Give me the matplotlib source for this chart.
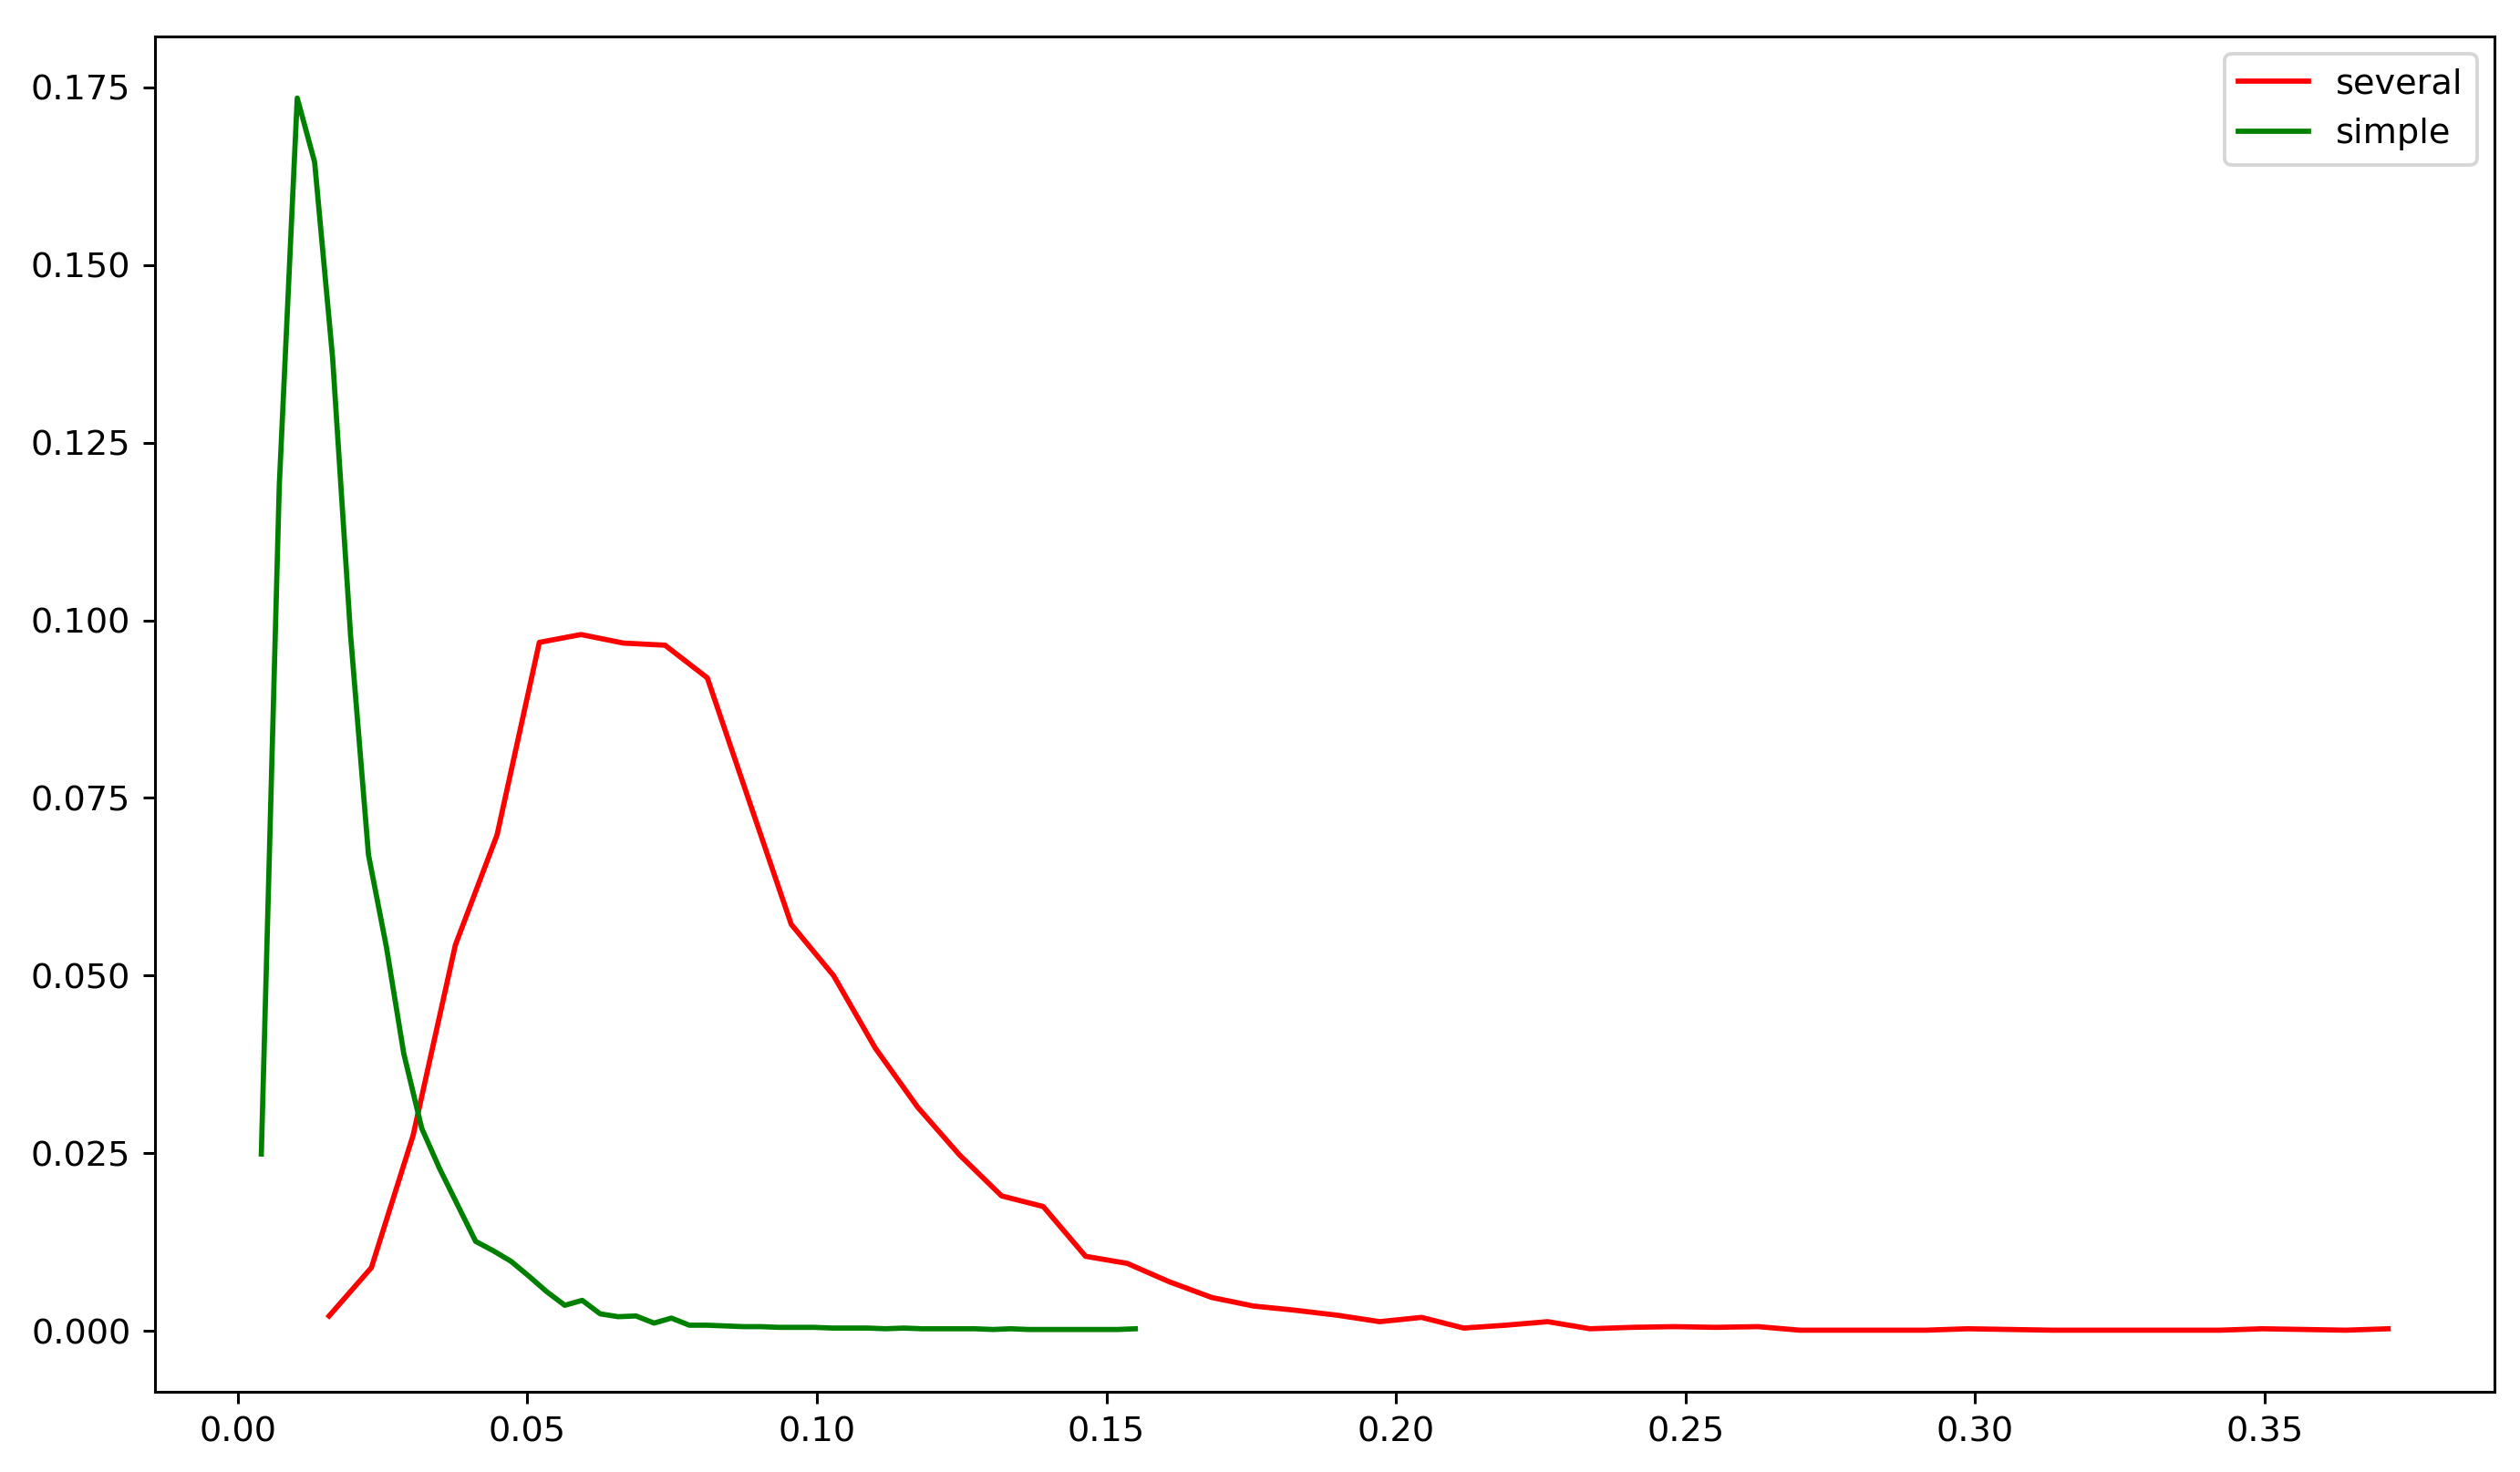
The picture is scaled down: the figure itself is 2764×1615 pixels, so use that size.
import matplotlib
matplotlib.use("Agg")
import matplotlib.pyplot as plt

# simple: 50 bins
simple_x = [0.0041, 0.0072, 0.0103, 0.0133, 0.0164, 0.0195, 0.0226, 0.0257, 0.0287, 0.0318,
            0.0349, 0.0380, 0.0411, 0.0441, 0.0472, 0.0503, 0.0534, 0.0565, 0.0595, 0.0626,
            0.0657, 0.0688, 0.0719, 0.0749, 0.0780, 0.0811, 0.0842, 0.0873, 0.0903, 0.0934,
            0.0965, 0.0996, 0.1027, 0.1057, 0.1088, 0.1119, 0.1150, 0.1181, 0.1211, 0.1242,
            0.1273, 0.1304, 0.1335, 0.1365, 0.1396, 0.1427, 0.1458, 0.1489, 0.1519, 0.1550]
simple_y = [0.0249, 0.1190, 0.1735, 0.1645, 0.1370, 0.0980, 0.0670, 0.0540, 0.0390, 0.0285,
            0.0228, 0.0177, 0.0126, 0.0113, 0.0098, 0.0077, 0.0055, 0.0036, 0.0043, 0.0024,
            0.0020, 0.0021, 0.0011, 0.0018, 0.0008, 0.0008, 0.0007, 0.0006, 0.0006, 0.0005,
            0.0005, 0.0005, 0.0004, 0.0004, 0.0004, 0.0003, 0.0004, 0.0003, 0.0003, 0.0003,
            0.0003, 0.0002, 0.0003, 0.0002, 0.0002, 0.0002, 0.0002, 0.0002, 0.0002, 0.0003]

# several: 50 bins
several_x = [0.0158, 0.0231, 0.0303, 0.0376, 0.0448, 0.0521, 0.0593, 0.0666, 0.0738, 0.0811,
             0.0884, 0.0956, 0.1029, 0.1101, 0.1174, 0.1246, 0.1319, 0.1391, 0.1464, 0.1536,
             0.1609, 0.1682, 0.1754, 0.1827, 0.1899, 0.1972, 0.2044, 0.2117, 0.2189, 0.2262,
             0.2335, 0.2407, 0.2480, 0.2552, 0.2625, 0.2697, 0.2770, 0.2842, 0.2915, 0.2987,
             0.3060, 0.3133, 0.3205, 0.3278, 0.3350, 0.3423, 0.3495, 0.3568, 0.3640, 0.3713]
several_y = [0.0021, 0.0089, 0.0275, 0.0543, 0.0698, 0.0969, 0.0980, 0.0968, 0.0965, 0.0919,
             0.0744, 0.0572, 0.0500, 0.0398, 0.0315, 0.0248, 0.0190, 0.0175, 0.0105, 0.0095,
             0.0069, 0.0047, 0.0035, 0.0029, 0.0022, 0.0013, 0.0019, 0.0004, 0.0008, 0.0013,
             0.0003, 0.0005, 0.0006, 0.0005, 0.0006, 0.0001, 0.0001, 0.0001, 0.0001, 0.0003,
             0.0002, 0.0001, 0.0001, 0.0001, 0.0001, 0.0001, 0.0003, 0.0002, 0.0001, 0.0003]

dpi = 275
fig = plt.figure(figsize=(2764 / dpi, 1615 / dpi), dpi=dpi)
ax = fig.add_subplot(111)
fig.subplots_adjust(left=170 / 2764, right=2736 / 2764, top=1 - 40 / 1615, bottom=1 - 1527 / 1615)

ax.plot(several_x, several_y, color="red", label="several")
ax.plot(simple_x, simple_y, color="green", label="simple")

ax.legend(loc="upper right")

fig.savefig("out.png", dpi=dpi)
